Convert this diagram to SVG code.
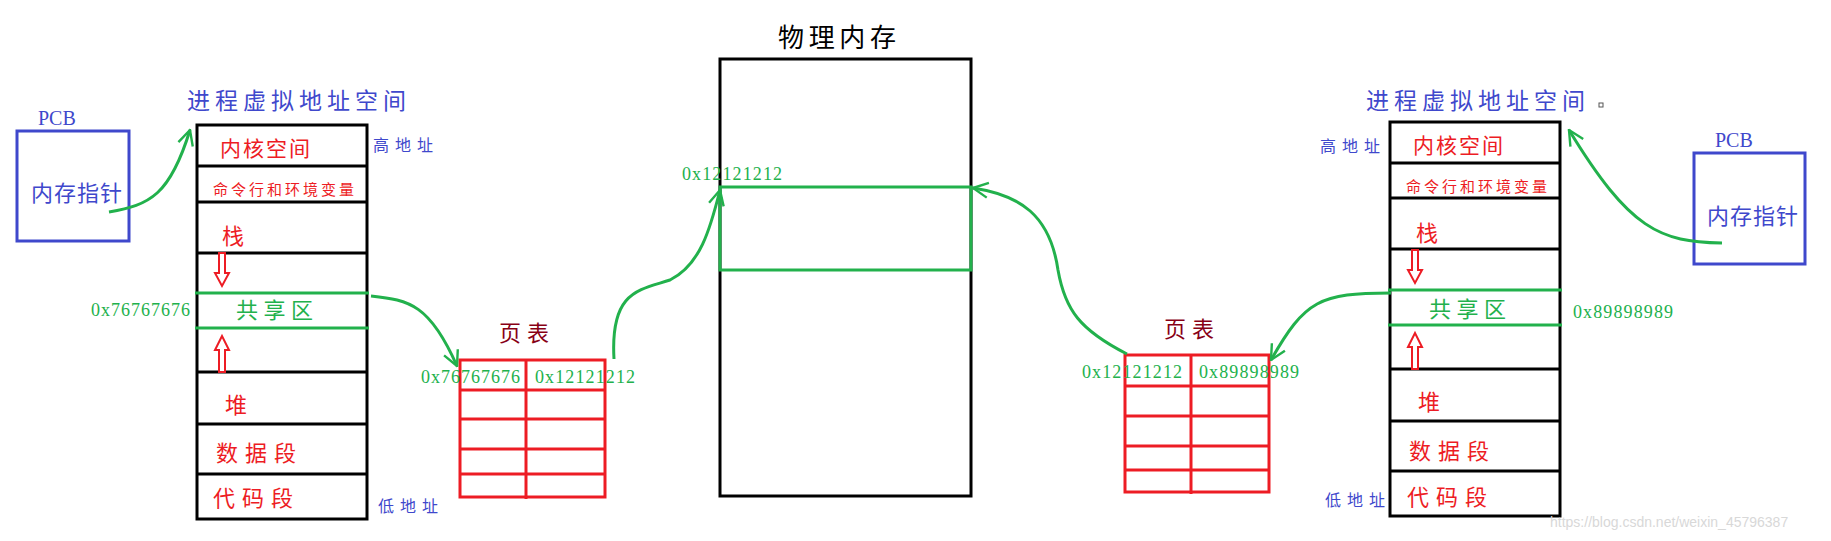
<svg xmlns="http://www.w3.org/2000/svg" width="1831" height="541" viewBox="0 0 1831 541">
<style>
.cjk{font-family:"Noto Sans CJK SC","Noto Sans",sans-serif}
.num{font-family:"Liberation Serif",serif;font-size:18px;fill:#22b14c}
.blue{fill:#3f48cc}.red{fill:#ed1c24}.dred{fill:#880015}
.stk{fill:none;stroke:#000;stroke-width:3}
.pt{fill:none;stroke:#ed1c24;stroke-width:3}
.gl{stroke:#22b14c;stroke-width:3;fill:none}
.conn{stroke:#22b14c;stroke-width:3;fill:none;marker-end:url(#ah)}
.harrow{fill:#fff;stroke:#ed1c24;stroke-width:2}
</style>
<defs>
<marker id="ah" viewBox="0 0 12 12" refX="11" refY="6" markerWidth="6" markerHeight="6" orient="auto" markerUnits="strokeWidth">
<path d="M1,1 L11,6 L1,11" fill="none" stroke="#22b14c" stroke-width="1.6"/>
</marker>
</defs>
<rect width="1831" height="541" fill="#fff"/>

<g id="pcb-left">
<rect x="17" y="131" width="112" height="110" fill="none" stroke="#3f48cc" stroke-width="3"/>
<text x="38" y="125" class="blue" font-family="Liberation Serif,serif" font-size="20">PCB</text>
<text x="31" y="201" class="cjk blue" font-size="22" textLength="91">内存指针</text>
</g>

<g id="vas-left">
<text x="187" y="109" class="cjk blue" font-size="23" textLength="219">进程虚拟地址空间</text>
<rect x="197" y="125" width="170" height="394" class="stk"/>
<line x1="197" y1="166" x2="367" y2="166" class="stk"/>
<line x1="197" y1="202" x2="367" y2="202" class="stk"/>
<line x1="197" y1="253" x2="367" y2="253" class="stk"/>
<line x1="197" y1="372" x2="367" y2="372" class="stk"/>
<line x1="197" y1="424" x2="367" y2="424" class="stk"/>
<line x1="197" y1="474" x2="367" y2="474" class="stk"/>
<line x1="195" y1="293" x2="369" y2="293" class="gl"/>
<line x1="195" y1="328" x2="369" y2="328" class="gl"/>
<text x="220" y="156" class="cjk red" font-size="21" textLength="90">内核空间</text>
<text x="213" y="195" class="cjk red" font-size="15" textLength="141">命令行和环境变量</text>
<text x="222" y="244" class="cjk red" font-size="22">栈</text>
<path d="M219,253 h6 v20 h4 l-7,13 l-7,-13 h4 z" class="harrow"/>
<text x="236" y="318" class="cjk" fill="#22b14c" font-size="22" textLength="77">共享区</text>
<path d="M219,372 h6 v-22 h4 l-7,-14 l-7,14 h4 z" class="harrow"/>
<text x="225" y="413" class="cjk red" font-size="22">堆</text>
<text x="216" y="461" class="cjk red" font-size="22" textLength="80">数据段</text>
<text x="213" y="506" class="cjk red" font-size="22" textLength="80">代码段</text>
<text x="373" y="151" class="cjk blue" font-size="16" textLength="60">高地址</text>
<text x="378" y="512" class="cjk blue" font-size="16" textLength="60">低地址</text>
<text x="91" y="316" class="num" textLength="99">0x76767676</text>
</g>

<g id="pagetable-left">
<text x="499" y="341" class="cjk dred" font-size="22" textLength="50">页表</text>
<rect x="460" y="360" width="145" height="137" class="pt"/>
<line x1="526" y1="360" x2="526" y2="499" class="pt"/>
<line x1="460" y1="390" x2="605" y2="390" class="pt"/>
<line x1="460" y1="419" x2="605" y2="419" class="pt"/>
<line x1="460" y1="449" x2="605" y2="449" class="pt"/>
<line x1="460" y1="474" x2="605" y2="474" class="pt"/>
<text x="421" y="383" class="num" textLength="99">0x76767676</text>
<text x="535" y="383" class="num" textLength="100">0x12121212</text>
</g>

<g id="physical">
<text x="778" y="47" class="cjk" fill="#000" font-size="26" textLength="118">物理内存</text>
<rect x="720" y="59" width="251" height="437" class="stk"/>
<rect x="720" y="187" width="251" height="83" class="gl"/>
<text x="682" y="180" class="num" textLength="100">0x12121212</text>
</g>

<g id="pagetable-right">
<text x="1164" y="337" class="cjk dred" font-size="22" textLength="50">页表</text>
<rect x="1125" y="355" width="144" height="137" class="pt"/>
<line x1="1191" y1="355" x2="1191" y2="494" class="pt"/>
<line x1="1125" y1="386" x2="1269" y2="386" class="pt"/>
<line x1="1125" y1="416" x2="1269" y2="416" class="pt"/>
<line x1="1125" y1="446" x2="1269" y2="446" class="pt"/>
<line x1="1125" y1="470" x2="1269" y2="470" class="pt"/>
<text x="1082" y="378" class="num" textLength="100">0x12121212</text>
<text x="1199" y="378" class="num" textLength="100">0x89898989</text>
</g>

<g id="vas-right">
<text x="1366" y="109" class="cjk blue" font-size="23" textLength="219">进程虚拟地址空间</text>
<rect x="1599" y="103" width="4" height="4" fill="none" stroke="#555" stroke-width="1"/>
<rect x="1390" y="122" width="170" height="394" class="stk"/>
<line x1="1390" y1="163" x2="1560" y2="163" class="stk"/>
<line x1="1390" y1="198" x2="1560" y2="198" class="stk"/>
<line x1="1390" y1="249" x2="1560" y2="249" class="stk"/>
<line x1="1390" y1="369" x2="1560" y2="369" class="stk"/>
<line x1="1390" y1="421" x2="1560" y2="421" class="stk"/>
<line x1="1390" y1="471" x2="1560" y2="471" class="stk"/>
<line x1="1388" y1="290" x2="1562" y2="290" class="gl"/>
<line x1="1388" y1="325" x2="1562" y2="325" class="gl"/>
<text x="1413" y="153" class="cjk red" font-size="21" textLength="90">内核空间</text>
<text x="1406" y="192" class="cjk red" font-size="15" textLength="141">命令行和环境变量</text>
<text x="1416" y="241" class="cjk red" font-size="22">栈</text>
<path d="M1412,250 h6 v20 h4 l-7,13 l-7,-13 h4 z" class="harrow"/>
<text x="1429" y="317" class="cjk" fill="#22b14c" font-size="22" textLength="77">共享区</text>
<path d="M1412,369 h6 v-22 h4 l-7,-14 l-7,14 h4 z" class="harrow"/>
<text x="1418" y="410" class="cjk red" font-size="22">堆</text>
<text x="1409" y="459" class="cjk red" font-size="22" textLength="80">数据段</text>
<text x="1407" y="505" class="cjk red" font-size="22" textLength="80">代码段</text>
<text x="1320" y="152" class="cjk blue" font-size="16" textLength="60">高地址</text>
<text x="1325" y="506" class="cjk blue" font-size="16" textLength="60">低地址</text>
<text x="1573" y="318" class="num" textLength="100">0x89898989</text>
</g>

<g id="pcb-right">
<rect x="1694" y="153" width="111" height="111" fill="none" stroke="#3f48cc" stroke-width="3"/>
<text x="1715" y="147" class="blue" font-family="Liberation Serif,serif" font-size="20">PCB</text>
<text x="1707" y="224" class="cjk blue" font-size="22" textLength="91">内存指针</text>
</g>

<g id="connectors">
<path d="M109,212 C150,205 170,195 190,130" class="conn"/>
<path d="M371,296 C410,300 430,305 457,366" class="conn"/>
<path d="M614,359 C610,290 640,290 670,280 C700,265 710,230 720,190" class="conn"/>
<path d="M1127,354 C1080,330 1065,310 1058,270 C1050,215 1020,195 973,188" class="conn"/>
<path d="M1722,243 C1660,242 1630,230 1569,130" class="conn"/>
<path d="M1391,293 C1320,293 1305,300 1271,360" class="conn"/>
</g>

<text x="1550" y="527" font-family="Liberation Sans,sans-serif" font-size="14" fill="#d8d8d8">https://blog.csdn.net/weixin_45796387</text>
</svg>
